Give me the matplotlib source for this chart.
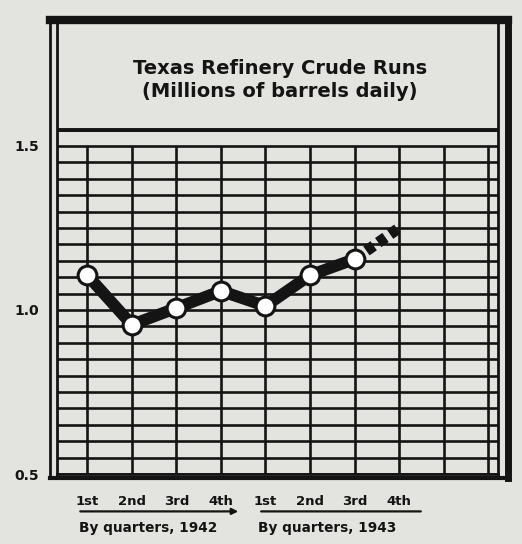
import numpy as np
import matplotlib
matplotlib.use('Agg')
import matplotlib.pyplot as plt
from matplotlib.lines import Line2D

# Texas refinery crude runs, millions of barrels daily, by quarter 1942-1943
quarters = ['1st', '2nd', '3rd', '4th', '1st', '2nd', '3rd', '4th']
runs = [1.106, 0.955, 1.006, 1.058, 1.012, 1.106, 1.155]
estimate_x = [6, 7]
estimate = [1.155, 1.25]
y_ticks = [0.5, 1.0, 1.5]
y_labels = ['0.5', '1.0', '1.5']
year_labels = ['By quarters, 1942', 'By quarters, 1943']

paper = '#e3e3df'
ink = '#141414'
font = 'DejaVu Sans'

fig = plt.figure(figsize=(5.22, 5.44), dpi=100)
fig.patch.set_facecolor(paper)
ax = fig.add_axes([57 / 522, 1 - 474 / 544, 441 / 522, 456 / 544])
ax.set_facecolor(paper)
ax.set_xlim(-0.68, 9.22)
ax.set_ylim(0.5, 1.89)

# ruled grid
for v in np.arange(0.5, 1.551, 0.05):
    ax.axhline(v, color=ink, lw=1.9, zorder=1)
ax.axhline(1.55, color=ink, lw=2.8, zorder=1)
ax.vlines(range(10), 0.5, 1.5, color=ink, lw=1.9, zorder=1)

# data line
x = np.arange(len(runs))
ax.plot(x, runs, color=ink, lw=8.5, solid_capstyle='round', zorder=3)
ax.plot(estimate_x, estimate, color=ink, lw=8, ls=(0, (0.8, 0.5)),
        dash_capstyle='butt', zorder=3)
ax.plot(x, runs, 'o', ms=13.5, mfc='white', mec=ink, mew=2.2, zorder=4)

# title in box
ax.text(0.506, 0.889, 'Texas Refinery Crude Runs', transform=ax.transAxes,
        ha='center', va='center', fontsize=14, fontweight='bold',
        family=font, color=ink)
ax.text(0.506, 0.838, '(Millions of barrels daily)', transform=ax.transAxes,
        ha='center', va='center', fontsize=14, fontweight='bold',
        family=font, color=ink)

# frame
for s in ax.spines.values():
    s.set_color(ink)
    s.set_linewidth(2)
ax.spines['top'].set_visible(False)
ax.add_line(Line2D([-0.016, 1.023], [0.995, 0.995], transform=ax.transAxes,
                   color=ink, lw=6, clip_on=False, solid_capstyle='projecting'))
ax.add_line(Line2D([-0.016, -0.016], [-0.009, 0.995], transform=ax.transAxes,
                   color=ink, lw=2, clip_on=False))
ax.add_line(Line2D([1.023, 1.023], [-0.009, 0.995], transform=ax.transAxes,
                   color=ink, lw=5, clip_on=False))
ax.add_line(Line2D([-0.016, 1.023], [-0.009, -0.009], transform=ax.transAxes,
                   color=ink, lw=3, clip_on=False))

# axis labels
ax.set_yticks(y_ticks, labels=y_labels)
ax.set_xticks(range(len(quarters)), labels=quarters)
ax.tick_params(length=0)
ax.tick_params(axis='y', pad=13)
ax.tick_params(axis='x', pad=15)
for t in ax.get_yticklabels():
    t.set_fontsize(10)
for t in ax.get_xticklabels():
    t.set_fontsize(9.5)
for t in ax.get_yticklabels() + ax.get_xticklabels():
    t.set_fontweight('bold')
    t.set_family(font)
    t.set_color(ink)

# year underlines
ax.annotate('', xy=(3.45, -0.082), xytext=(-0.22, -0.082),
            xycoords=('data', 'axes fraction'), textcoords=('data', 'axes fraction'),
            arrowprops=dict(arrowstyle='-|>', color=ink, lw=1.6, mutation_scale=9),
            annotation_clip=False)
ax.annotate('', xy=(7.55, -0.082), xytext=(3.84, -0.082),
            xycoords=('data', 'axes fraction'), textcoords=('data', 'axes fraction'),
            arrowprops=dict(arrowstyle='-', color=ink, lw=1.6),
            annotation_clip=False)
for cx, lab in zip([1.37, 5.39], year_labels):
    ax.text(cx, -0.119, lab, transform=ax.get_xaxis_transform(), ha='center',
            va='center', fontsize=9.8, fontweight='bold', family=font, color=ink)

fig.savefig('out.png', dpi=100, facecolor=paper)
